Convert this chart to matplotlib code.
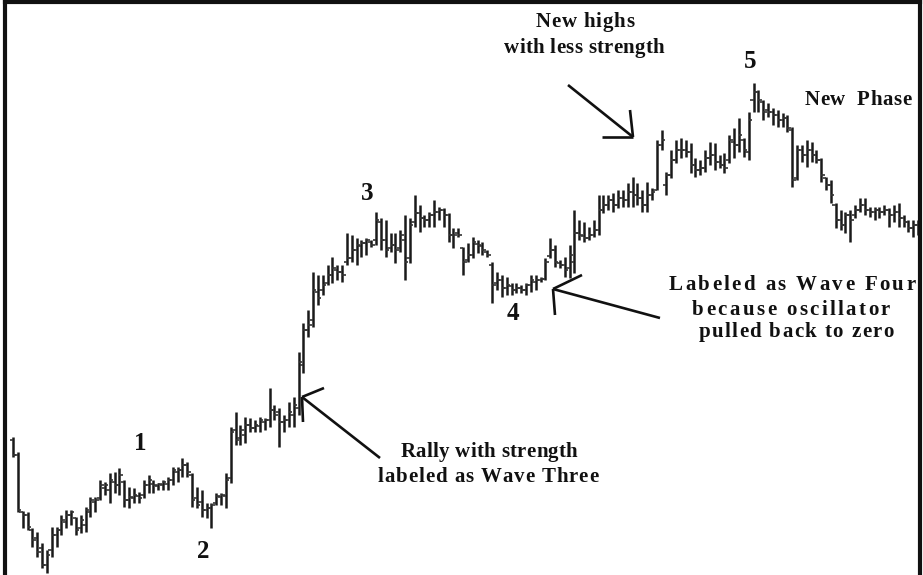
import matplotlib.pyplot as plt
import numpy as np
from matplotlib import font_manager
from matplotlib.ft2font import FT2Font

# bar data (price units), one entry per session
highs = [163, 148, 89, 88, 72, 68, 57, 50, 73, 73, 85, 90, 90, 83, 85, 93, 103, 103, 120, 118,
         127, 128, 132, 120, 113, 112, 108, 120, 125, 120, 117, 120, 123, 133, 133, 142, 138, 127, 113, 110,
         97, 97, 107, 107, 127, 173, 188, 175,
         183, 182, 180, 183, 182, 212, 195, 192, 185, 198, 203, 248, 277, 290,
         328, 325, 325, 335, 343, 335, 335, 367, 365, 362, 360, 362, 360, 388, 382, 380, 367, 367,
         370, 385, 382, 405, 395, 385, 388, 400, 393, 392, 387, 372, 372,
         353, 357, 363, 360, 358, 350, 338, 328, 325, 323, 317, 317, 315, 317, 325, 325, 323, 342,
         362, 355, 340, 343, 355, 390, 380, 378, 373, 380, 405, 405, 405, 407, 410,
         410, 417, 423, 417, 410, 418, 412, 460, 470, 428, 450, 460, 462, 460, 457, 442, 440, 450,
         458, 457, 445, 447, 465, 472, 482, 462, 488, 517, 510, 500,
         497, 492, 490, 487, 485, 473, 455, 455, 460, 458, 450, 442, 423, 420, 397, 390, 388, 390,
         395, 402, 402, 393, 393, 393, 395, 392, 395, 397, 385, 380, 380, 380]
lows = [143, 88, 72, 70, 53, 43, 32, 27, 43, 53, 65, 72, 75, 65, 67, 68, 83, 88, 100, 105,
        97, 107, 105, 93, 92, 97, 97, 102, 107, 107, 110, 110, 110, 115, 118, 123, 123, 93, 92, 83,
        82, 72, 95, 95, 92, 117, 155, 155,
        157, 168, 168, 168, 170, 173, 180, 153, 168, 173, 173, 185, 227, 263,
        273, 295, 305, 315, 317, 320, 318, 335, 338, 335, 343, 345, 353, 355, 350, 343, 348, 337,
        348, 320, 337, 373, 368, 373, 373, 373, 380, 373, 358, 352, 363,
        325, 338, 342, 347, 345, 343, 297, 310, 303, 305, 305, 307, 307, 305, 308, 310, 318, 320,
        342, 333, 332, 323, 322, 327, 360, 358, 360, 363, 365, 387, 390, 388, 392,
        393, 393, 393, 395, 388, 388, 400, 410, 450, 405, 422, 437, 442, 443, 427, 423, 425, 428,
        435, 430, 432, 427, 437, 442, 448, 443, 440, 488, 488, 480,
        483, 475, 473, 473, 468, 413, 420, 438, 433, 438, 437, 418, 410, 397, 372, 370, 367, 358,
        382, 388, 385, 383, 380, 382, 385, 373, 378, 373, 373, 368, 363, 365]
opens = [160, 145, 88, 85, 70, 62, 52, 35, 50, 65, 70, 78, 85, 82, 72, 75, 88, 98, 102, 112,
         110, 118, 115, 118, 100, 102, 104, 105, 115, 116, 114, 115, 116, 120, 128, 130, 135, 125, 102, 98,
         90, 92, 97, 103, 104, 122, 170, 162,
         165, 175, 172, 174, 178, 180, 190, 188, 178, 180, 185, 192, 235, 270,
         280, 308, 310, 317, 325, 330, 328, 338, 342, 350, 354, 357, 358, 360, 378, 360, 352, 355,
         352, 360, 342, 378, 387, 382, 380, 385, 388, 390, 385, 365, 367,
         352, 340, 345, 356, 354, 348, 335, 317, 320, 312, 314, 310, 312, 310, 315, 318, 320, 321,
         344, 350, 337, 335, 332, 338, 367, 364, 362, 365, 370, 390, 395, 400, 395,
         402, 400, 408, 405, 402, 395, 405, 410, 455, 415, 425, 440, 450, 450, 448, 435, 430, 432,
         442, 445, 438, 435, 440, 458, 455, 460, 448, 500, 508, 498,
         490, 488, 485, 480, 482, 470, 422, 450, 445, 450, 445, 440, 422, 415, 395, 380, 375, 385,
         385, 390, 395, 390, 388, 390, 388, 390, 385, 388, 382, 378, 372, 375]
closes = [145, 90, 85, 73, 60, 48, 35, 45, 65, 70, 80, 85, 88, 70, 80, 90, 100, 100, 115, 115,
          120, 115, 125, 100, 103, 105, 102, 115, 120, 115, 116, 118, 120, 130, 130, 135, 128, 100, 95, 90,
          92, 95, 104, 105, 120, 168, 160, 170,
          175, 172, 175, 180, 180, 190, 185, 178, 180, 188, 195, 238, 270, 275,
          310, 302, 315, 325, 332, 328, 325, 342, 350, 355, 357, 360, 355, 380, 360, 350, 355, 350,
          365, 338, 375, 387, 382, 380, 385, 388, 390, 385, 365, 365, 365,
          338, 345, 358, 355, 350, 345, 315, 320, 312, 315, 310, 312, 310, 315, 320, 320, 321, 338,
          350, 338, 335, 330, 345, 367, 365, 362, 365, 370, 390, 395, 400, 395, 402,
          400, 408, 405, 402, 395, 405, 408, 455, 460, 425, 440, 450, 450, 448, 435, 430, 432, 442,
          445, 438, 435, 432, 460, 455, 465, 450, 480, 508, 500, 488,
          488, 485, 480, 482, 472, 420, 450, 445, 450, 445, 440, 425, 415, 405, 380, 375, 385, 380,
          390, 395, 390, 388, 390, 388, 390, 385, 388, 382, 378, 372, 375, 370]

fig = plt.figure(figsize=(9.23, 5.75), dpi=100)
ax = fig.add_axes([5 / 923, 0, 915 / 923, 573 / 575])

step = 4.84  # px between sessions


def px(x, y):
    # picture pixel -> data coords, for placing the notes
    return (x - 13) / step, 600 - y


x = np.arange(len(highs))
ax.vlines(x, lows, highs, color='#1a1a1a', lw=1.8)
ax.hlines(opens, x - 0.7, x, color='#333333', lw=1.2)
ax.hlines(closes, x, x + 0.7, color='#333333', lw=1.2)

ax.set_xlim(px(5, 0)[0], px(920, 0)[0])
ax.set_ylim(600 - 575, 600 - 2)
ax.set_xticks([])
ax.set_yticks([])
for side in ['left', 'top', 'right']:
    ax.spines[side].set_linewidth(3)
    ax.spines[side].set_color('#111111')
ax.spines['bottom'].set_visible(False)

serif = dict(family='Liberation Serif', weight='bold', color='#111111')

# wave counts
for label, (lx, ly) in zip(['1', '2', '3', '4', '5'],
                           [(140, 443), (203, 551), (367, 193), (513, 314), (750, 62)]):
    ax.text(*px(lx, ly), label, fontsize=18, ha='center', va='center', **serif)

# letter-spaced notes (the original is set with some tracking)
font = FT2Font(font_manager.findfont(
    font_manager.FontProperties(family='Liberation Serif', weight='bold')))


def tracked(s, cx, cy, size, track):
    font.set_size(size, 100)
    adv = []
    for ch in s:
        g = font.load_char(ord(ch))
        adv.append(g.linearHoriAdvance / 65536)
    total = sum(adv) + track * (len(s) - 1)
    xpos = cx - total / 2
    for ch, a in zip(s, adv):
        if ch != ' ':
            ax.text(*px(xpos, cy), ch, fontsize=size, ha='left', va='center', **serif)
        xpos += a + track


notes = [("New highs", 585, 22, 0.8), ("with less strength", 584, 48, 0.3),
         ("New  Phase", 858, 100, 0.5),
         ("Rally with strength", 489, 452, 0.3), ("labeled as Wave Three", 488, 477, 0.9),
         ("Labeled as Wave Four", 792, 285, 2.4), ("because oscillator", 791, 310, 2.4),
         ("pulled back to zero", 796, 332, 1.4)]
for txt, tx, ty, tr in notes:
    tracked(txt, tx, ty, 15, tr)

# pointer arrows: (tail, tip, arm1, arm2)
arrows = [((380, 458), (302, 397), (324, 388), (303, 422)),
          ((660, 318), (553, 289), (582, 275), (555, 315)),
          ((568, 85), (633, 137), (602, 137), (630, 110))]
for tail, tip, a1, a2 in arrows:
    for end in (tail, a1, a2):
        p0 = px(*tip)
        p1 = px(*end)
        ax.plot([p0[0], p1[0]], [p0[1], p1[1]], color='#111111', lw=1.9,
                solid_capstyle='butt')

fig.savefig('out.png', dpi=100)
